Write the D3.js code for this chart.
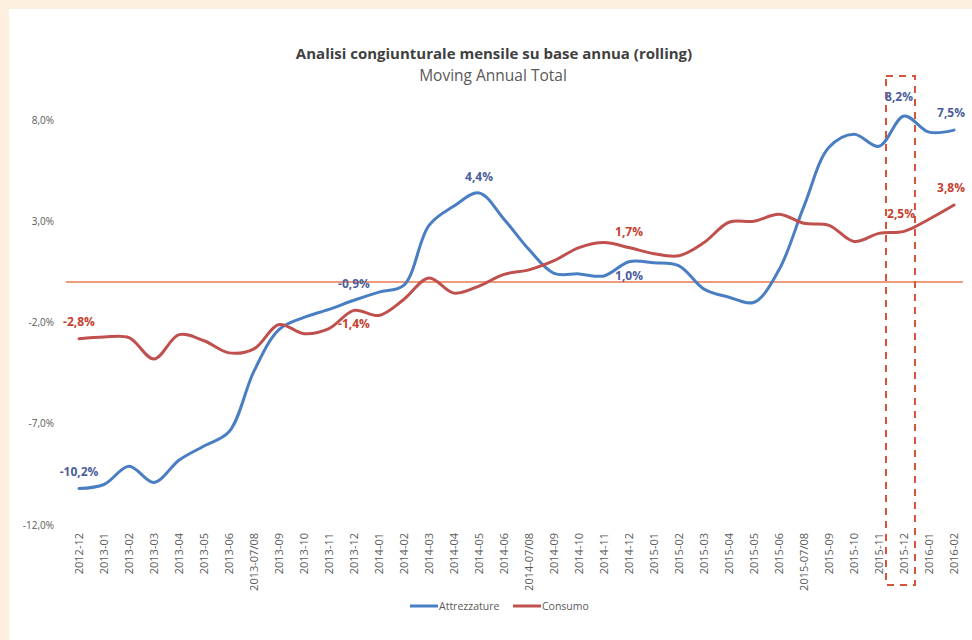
<!DOCTYPE html>
<html><head><meta charset="utf-8">
<script src="https://cdn.jsdelivr.net/npm/d3@7"></script>
<style>
html,body{margin:0;padding:0;background:#fdf0df;}
svg{display:block;font-family:"Open Sans","Liberation Sans",sans-serif;}
</style></head>
<body>
<svg id="c" width="972" height="640"></svg>
<script>
const categories = ["2012-12","2013-01","2013-02","2013-03","2013-04","2013-05","2013-06","2013-07/08","2013-09","2013-10","2013-11","2013-12","2014-01","2014-02","2014-03","2014-04","2014-05","2014-06","2014-07/08","2014-09","2014-10","2014-11","2014-12","2015-01","2015-02","2015-03","2015-04","2015-05","2015-06","2015-07/08","2015-09","2015-10","2015-11","2015-12","2016-01","2016-02"];
const attrezzature = [-10.2,-10.0,-9.1,-9.9,-8.8,-8.1,-7.4,-4.4,-2.35,-1.75,-1.35,-0.9,-0.5,-0.15,2.8,3.75,4.4,3.1,1.6,0.43,0.4,0.3,1.0,0.95,0.8,-0.35,-0.75,-1.0,0.6,3.75,6.65,7.3,6.7,8.2,7.4,7.5];
const consumo = [-2.8,-2.72,-2.75,-3.8,-2.6,-2.9,-3.5,-3.3,-2.1,-2.55,-2.3,-1.4,-1.65,-0.85,0.2,-0.55,-0.2,0.38,0.6,1.05,1.7,1.95,1.7,1.4,1.3,1.95,2.95,3.0,3.35,2.9,2.8,2.0,2.4,2.5,3.1,3.8];
const yTicks = [-12,-7,-2,3,8];
const seriesNames = ["Attrezzature","Consumo"];
const labelled = {
  Attrezzature: [{i:0,pos:"above"},{i:11,pos:"above"},{i:16,pos:"above"},{i:22,pos:"below"},{i:33,pos:"above"},{i:35,pos:"above"}],
  Consumo: [{i:0,pos:"above"},{i:11,pos:"below"},{i:22,pos:"above"},{i:33,pos:"above"},{i:35,pos:"above"}]
};
const highlight = "2015-12";

const svg = d3.select("#c");
const W = 972, H = 640;
svg.append("rect").attr("x",9).attr("y",9).attr("width",W-9).attr("height",H-9).attr("fill","#ffffff");

const x = d3.scalePoint().domain(categories).range([79,954]);
const y = d3.scaleLinear().domain([-12,8]).range([525,120]);
const fmt = v => (v.toFixed(1).replace(".",",")) + "%";

// title
svg.append("text").attr("x",494).attr("y",59).attr("text-anchor","middle")
  .attr("font-size",15).attr("font-weight","bold").attr("fill","#3f3f3f")
  .text("Analisi congiunturale mensile su base annua (rolling)");
svg.append("text").attr("x",493).attr("y",81).attr("text-anchor","middle")
  .attr("font-size",15.5).attr("fill","#595959").text("Moving Annual Total");

// y axis
const yAxis = d3.axisLeft(y).tickValues(yTicks).tickSize(0).tickPadding(0).tickFormat(fmt);
const gy = svg.append("g").attr("transform","translate(54,0)").call(yAxis);
gy.select(".domain").remove();
gy.selectAll("text").attr("font-size",10).attr("fill","#595959").attr("font-family","'Open Sans',sans-serif");

// x axis
const xAxis = d3.axisBottom(x).tickSize(0).tickPadding(0);
const gx = svg.append("g").attr("transform","translate(0,533)").call(xAxis);
gx.select(".domain").remove();
gx.selectAll(".tick text").attr("font-size",11).attr("fill","#595959").attr("font-family","'Open Sans',sans-serif")
  .attr("transform","rotate(-90)").attr("x",0).attr("y",0)
  .attr("text-anchor","end").attr("dy","0.35em");

// zero line
svg.append("line").attr("x1",66).attr("x2",963).attr("y1",y(0)).attr("y2",y(0))
  .attr("stroke","#ee9a7c").attr("stroke-width",2);

const line = d3.line().x((d,i)=>x(categories[i])).y(d=>y(d)).curve(d3.curveCatmullRom.alpha(0.5));
const colors = {Attrezzature:"#4a7ec2", Consumo:"#c0504d"};
const labelColors = {Attrezzature:"#4a5e9c", Consumo:"#c5402e"};
const dataMap = {Attrezzature: attrezzature, Consumo: consumo};

seriesNames.forEach(name=>{
  svg.append("path").datum(dataMap[name]).attr("d",line).attr("fill","none")
    .attr("stroke",colors[name]).attr("stroke-width",3).attr("stroke-linejoin","round").attr("stroke-linecap","round");
});

// highlight box
const hx = x(highlight);
svg.append("rect").attr("x",hx-18).attr("y",76).attr("width",29).attr("height",509)
  .attr("fill","none").attr("stroke","#d4553a").attr("stroke-width",2).attr("stroke-dasharray","7,6");

// data labels
seriesNames.forEach(name=>{
  labelled[name].forEach(l=>{
    const v = dataMap[name][l.i];
    let px = x(categories[l.i]);
    let py = l.pos==="above" ? y(v)-12 : y(v)+18;
    if (l.i===0) py = y(v)-13;
    if (name==="Attrezzature" && l.i===33) { py = y(v)-15; px -= 5; }
    if (l.i===35) { py = y(v)-13; px -= 3; }
    if (name==="Consumo" && l.i===33) { py = y(v)-13; px -= 3; }
    svg.append("text").attr("x",px).attr("y",py).attr("text-anchor","middle")
      .attr("font-size",12).attr("font-weight","bold").attr("fill",labelColors[name]).text(fmt(v));
  });
});

// legend
const leg = svg.append("g").attr("transform","translate(0,606)");
const legItems = [{n:"Attrezzature",x:410},{n:"Consumo",x:513}];
legItems.forEach(it=>{
  leg.append("line").attr("x1",it.x).attr("x2",it.x+28).attr("y1",0).attr("y2",0)
    .attr("stroke",colors[it.n]).attr("stroke-width",3);
  leg.append("text").attr("x",it.x+29).attr("y",0).attr("dy","0.35em").attr("font-size",10.5)
    .attr("fill","#595959").text(it.n);
});
</script>
</body></html>
